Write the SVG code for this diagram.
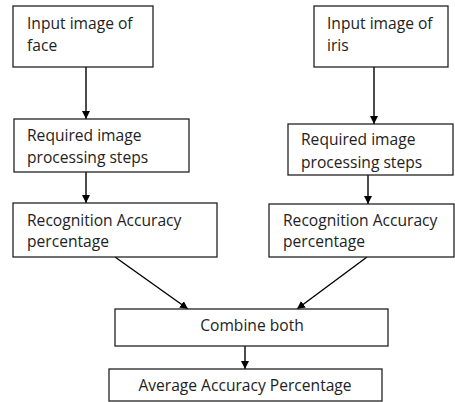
<svg xmlns="http://www.w3.org/2000/svg" width="455" height="402" viewBox="0 0 455 402">
<style>
.box{fill:#fff;stroke:#222;stroke-width:1.3}
.t{font-family:"Open Sans","Liberation Sans",sans-serif;font-size:15.6px;fill:#222}
.c{stroke:#000;stroke-width:1.4;fill:none;marker-end:url(#ah)}
</style>
<defs>
<marker id="ah" markerWidth="8" markerHeight="8" refX="8" refY="4" orient="auto" markerUnits="userSpaceOnUse">
<path d="M0,0 L8,4 L0,8 Z" fill="#000"/>
</marker>
</defs>
<rect width="455" height="402" fill="#fff"/>
<g id="connectors">
<line class="c" x1="86" y1="67" x2="86" y2="119"/>
<line class="c" x1="86" y1="172" x2="86" y2="203"/>
<line class="c" x1="374" y1="67" x2="374" y2="124"/>
<line class="c" x1="368" y1="175" x2="368" y2="204"/>
<line class="c" x1="115" y1="257" x2="188" y2="309"/>
<line class="c" x1="367" y1="257" x2="297" y2="309"/>
<line class="c" x1="245" y1="346" x2="245" y2="369"/>
</g>
<g id="face">
<rect class="box" x="13" y="6" width="140" height="61"/>
<text class="t" x="27" y="29">Input image of</text>
<text class="t" x="27" y="51">face</text>
</g>
<g id="face-proc">
<rect class="box" x="14" y="119" width="175" height="53"/>
<text class="t" x="27" y="141">Required image</text>
<text class="t" x="27" y="163">processing steps</text>
</g>
<g id="face-acc">
<rect class="box" x="13" y="203" width="204" height="54"/>
<text class="t" x="27" y="226">Recognition Accuracy</text>
<text class="t" x="27" y="247">percentage</text>
</g>
<g id="iris">
<rect class="box" x="314" y="6" width="134" height="61"/>
<text class="t" x="327" y="29">Input image of</text>
<text class="t" x="327" y="51">iris</text>
</g>
<g id="iris-proc">
<rect class="box" x="288" y="124" width="165" height="51"/>
<text class="t" x="301" y="145">Required image</text>
<text class="t" x="301" y="168">processing steps</text>
</g>
<g id="iris-acc">
<rect class="box" x="269" y="204" width="185" height="53"/>
<text class="t" x="283" y="226">Recognition Accuracy</text>
<text class="t" x="283" y="247">percentage</text>
</g>
<g id="combine">
<rect class="box" x="115" y="309" width="273" height="37"/>
<text class="t" x="252" y="331" text-anchor="middle">Combine both</text>
</g>
<g id="average">
<rect class="box" x="109" y="369" width="273" height="32"/>
<text class="t" x="245" y="391" text-anchor="middle">Average Accuracy Percentage</text>
</g>
</svg>
